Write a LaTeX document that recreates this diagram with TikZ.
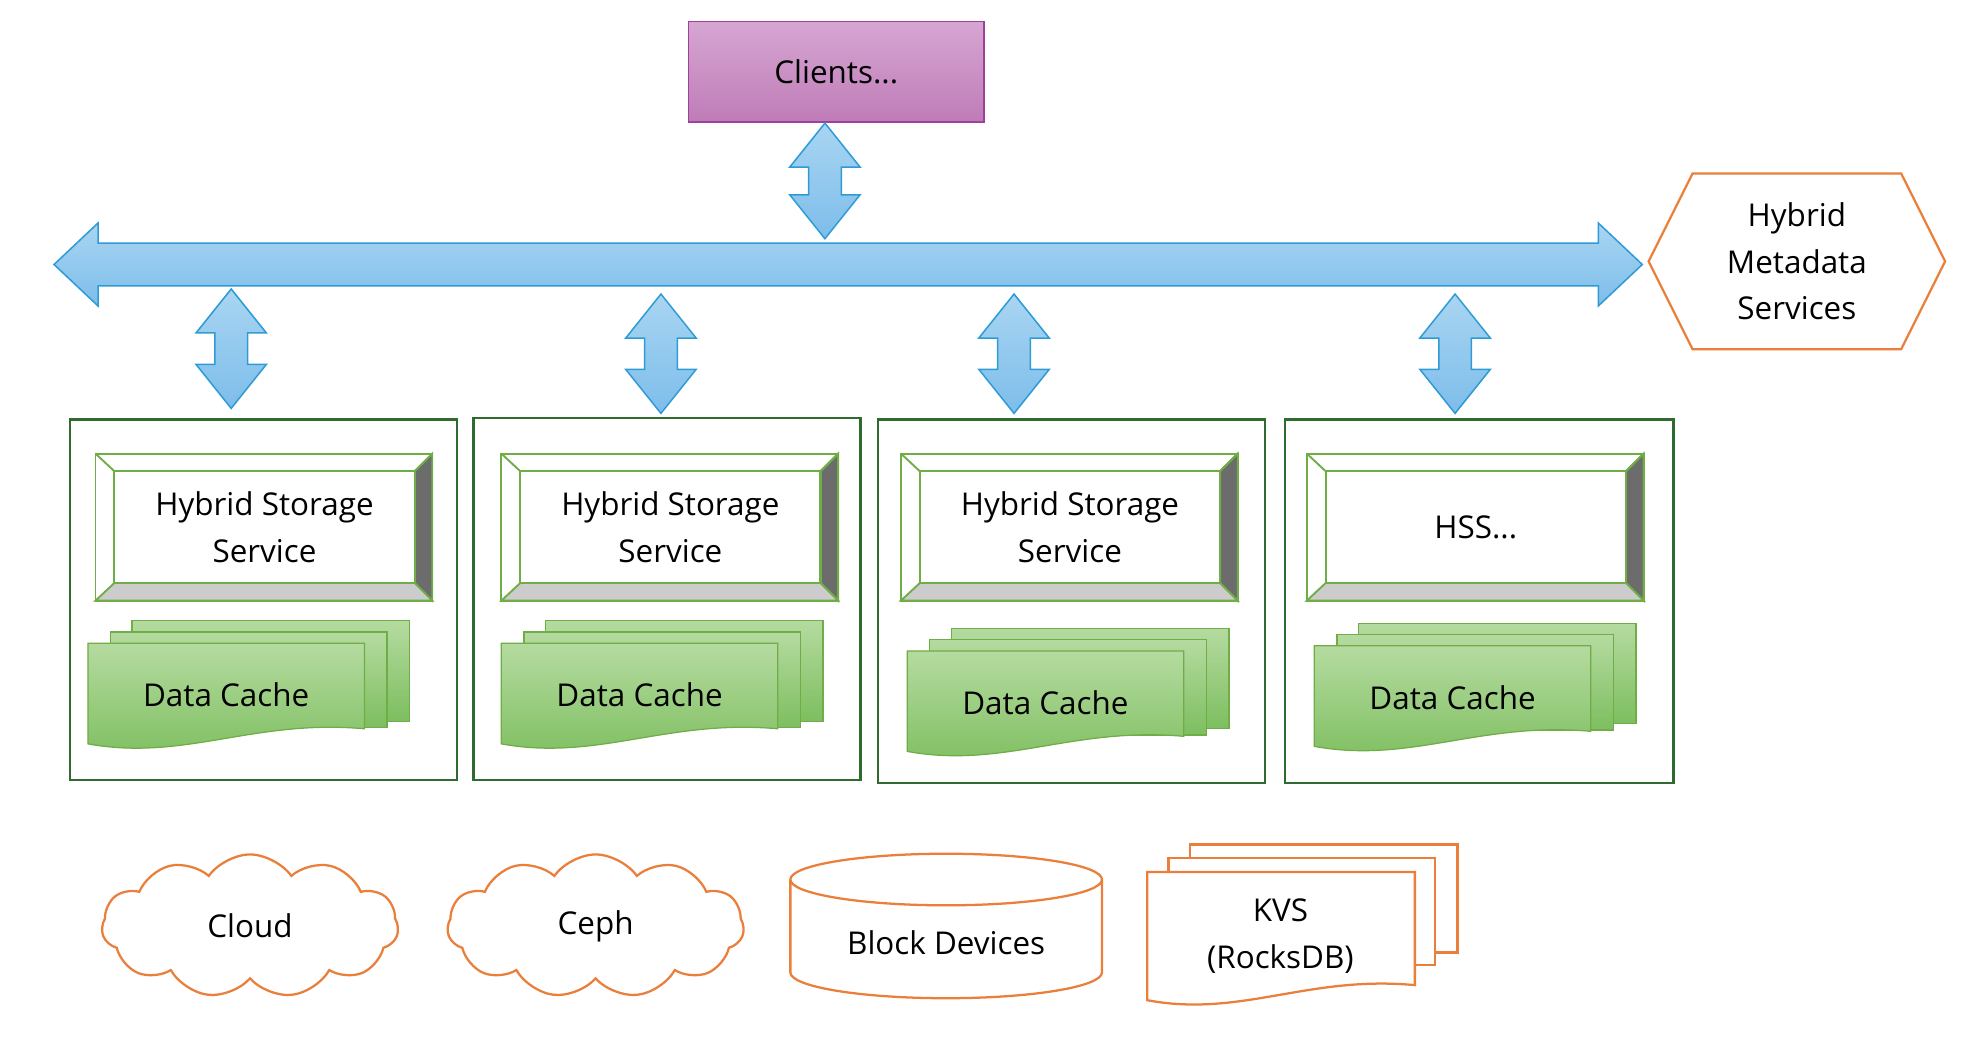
\documentclass[tikz,border=0pt]{standalone}
\usepackage{fontspec}
\setmainfont{Open Sans}
\usetikzlibrary{shapes.geometric,shapes.symbols}
\definecolor{bluef1}{HTML}{A9D5F2}
\definecolor{bluef2}{HTML}{7DBDEA}
\definecolor{blueb}{HTML}{2E9BD6}
\definecolor{grn}{HTML}{70AD47}
\definecolor{grnd}{HTML}{2F6B2F}
\definecolor{grnf1}{HTML}{B5DBA0}
\definecolor{grnf2}{HTML}{7DBE5F}
\definecolor{org}{HTML}{E97F3A}
\definecolor{purb}{HTML}{A0409A}
\definecolor{purf1}{HTML}{D6A6D2}
\definecolor{purf2}{HTML}{BF7CB8}
\tikzset{
 txt/.style={font=\fontsize{25}{37}\selectfont,align=center,text=black},
 arr/.style={draw=blueb,line width=1.2pt,top color=bluef1,bottom color=bluef2},
 doc/.style={draw=grn,line width=1pt,top color=grnf1,bottom color=grnf2},
 box/.style={draw=grnd,line width=1.8pt},
 orng/.style={draw=org,line width=1.8pt,fill=white},
}
\newcommand\varrow[3]{% cx, ytop, ybot
 \path[arr] (#1,#2) -- (#1+28,#2+35) -- (#1+13,#2+35) -- (#1+13,#3-35) -- (#1+28,#3-35)
  -- (#1,#3) -- (#1-28,#3-35) -- (#1-13,#3-35) -- (#1-13,#2+35) -- (#1-28,#2+35) -- cycle;}
\newcommand\docpath[4]{% x y w h
 (#1,#2) -- (#1+#3,#2) -- (#1+#3,#2+#4-18) .. controls (#1+0.6*#3,#2+#4-26) and (#1+0.35*#3,#2+#4+8) .. (#1,#2+#4-6) -- cycle}
\newcommand\dcache[3]{% x y name
 \path[doc] (#1+35,#2-18) rectangle (#1+256,#2+62);
 \path[doc] (#1+18,#2-9) rectangle (#1+238,#2+67);
 \path[doc] \docpath{#1}{#2}{220}{86};
 \node[txt] (#3) at (#1+110,#2+41) {Data Cache};}
\newcommand\hsbox[4]{% x y name text
 \path[draw=grn,line width=1.5pt,fill=white] (#1,#2) rectangle (#1+268,#2+117);
 \path[draw=grn,line width=1.5pt,fill=gray!85!black] (#1+268,#2) -- (#1+254,#2+14) -- (#1+254,#2+103) -- (#1+268,#2+117) -- cycle;
 \path[draw=grn,line width=1.5pt,fill=gray!40] (#1,#2+117) -- (#1+15,#2+103) -- (#1+254,#2+103) -- (#1+268,#2+117) -- cycle;
 \draw[grn,line width=1.5pt] (#1,#2) -- (#1+15,#2+14) (#1+268,#2) -- (#1+254,#2+14);
 \path[draw=grn,line width=1.8pt,fill=white] (#1+15,#2+14) rectangle (#1+254,#2+103);
 \node[txt] (#3) at (#1+134.5,#2+58.5) {#4};}
\begin{document}
\begin{tikzpicture}[x=1pt,y=-1pt]
\useasboundingbox (0,0) rectangle (1567,829);
% clients
\node[draw=purb,line width=1.2pt,top color=purf1,bottom color=purf2,
 minimum width=235,minimum height=80,txt] (clients) at (665.5,57) {Clients...};
\varrow{656.5}{98}{190}
% bus
\path[arr] (43,210.5) -- (78,177.5) -- (78,193.5) -- (1272,193.5) -- (1272,177.5) -- (1307,210.5)
 -- (1272,243.5) -- (1272,227.5) -- (78,227.5) -- (78,243.5) -- cycle;
% hexagon
\path[orng] (1312,208) -- (1347,138) -- (1513,138) -- (1548,208) -- (1513,278) -- (1347,278) -- cycle;
\node[txt] (hms) at (1430,208) {Hybrid\\Metadata\\Services};
\varrow{184}{230}{325}
\varrow{526}{234}{329}
\varrow{807}{234}{329}
\varrow{1158}{234}{329}
% boxes
\node[box,minimum width=308,minimum height=287,inner sep=0,anchor=north west] (b1) at (55,333) {};
\node[box,minimum width=308,minimum height=288,inner sep=0,anchor=north west] (b2) at (376,332) {};
\node[box,minimum width=308,minimum height=289,inner sep=0,anchor=north west] (b3) at (698,333) {};
\node[box,minimum width=309,minimum height=289,inner sep=0,anchor=north west] (b4) at (1022,333) {};
\hsbox{76}{361}{h1}{Hybrid Storage\\Service}
\hsbox{399}{361}{h2}{Hybrid Storage\\Service}
\hsbox{717}{361}{h3}{Hybrid Storage\\Service}
\hsbox{1040}{361}{h4}{HSS...}
\dcache{70}{512}{d1}
\dcache{399}{512}{d2}
\dcache{722}{518}{d3}
\dcache{1046}{514}{d4}
% bottom
\node[cloud,cloud puffs=11,cloud puff arc=110,aspect=2.3,orng,minimum width=236,minimum height=114,txt] (cloud) at (199,737) {Cloud};
\node[cloud,cloud puffs=11,cloud puff arc=110,aspect=2.3,orng,minimum width=236,minimum height=114,txt] (ceph) at (474,737) {Ceph};
\node[cylinder,shape border rotate=90,aspect=0.25,orng,minimum width=248,minimum height=115,txt] (blk) at (753,750) {\raisebox{-12pt}{Block Devices}};
\path[orng] (947,672) rectangle (1160,758);
\path[orng] (930,683) rectangle (1142,768);
\path[orng] \docpath{913}{694}{213}{108};
\node[txt] (kvs) at (1019,745) {KVS\\(RocksDB)};
\end{tikzpicture}
\end{document}
